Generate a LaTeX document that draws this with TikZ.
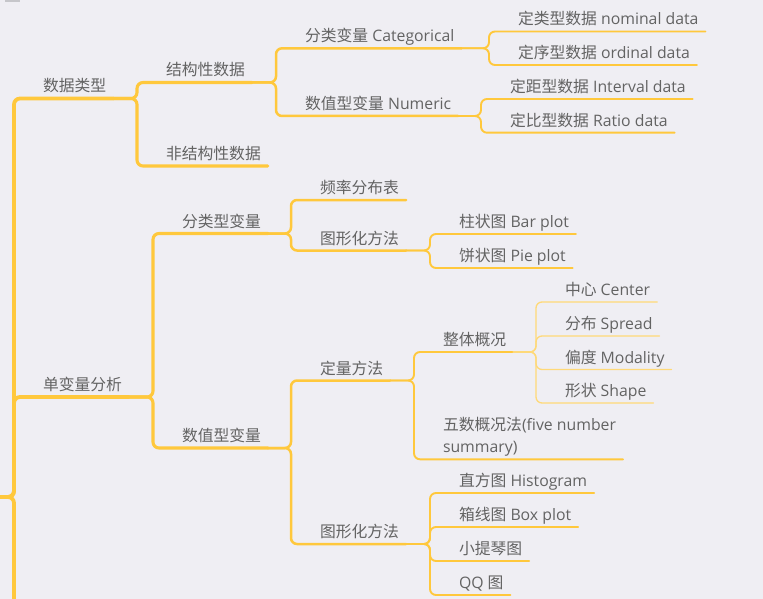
\documentclass[tikz,border=0pt]{standalone}
\usepackage{fontspec}
\setmainfont{Open Sans}
\newfontfamily\zhfont{Noto Sans CJK SC}
\newcommand{\zh}[1]{{\zhfont #1}}
\usepackage{tikz}
\usetikzlibrary{calc}
\definecolor{bgcol}{HTML}{EFEEF3}
\definecolor{mapyellow}{HTML}{FFC83C}
\definecolor{paleyellow}{HTML}{FFD978}
\definecolor{txtgray}{HTML}{636363}
\definecolor{tabgray}{HTML}{C6C6CA}
\tikzset{
  topic/.style={anchor=south west, inner sep=0pt, outer sep=0pt, text depth=6.5pt,
    text=txtgray, font=\fontsize{15.8}{22}\selectfont},
  lvla/.style={draw=mapyellow, line width=3.8pt, rounded corners=6pt, line cap=round},
  lvlb/.style={draw=mapyellow, line width=3.1pt, rounded corners=6pt, line cap=round},
  lvlc/.style={draw=mapyellow, line width=2.5pt, rounded corners=6pt, line cap=round},
  lvld/.style={draw=mapyellow, line width=1.9pt, rounded corners=6pt, line cap=round},
  lvle/.style={draw=paleyellow, line width=1.3pt, rounded corners=6pt, line cap=round}
}
\begin{document}
\begin{tikzpicture}[x=1pt,y=-1pt]
      \useasboundingbox (0,0) rectangle (763,599);
      \fill[bgcol] (0,0) rectangle (763,599);
      \fill[tabgray] (5,-2) rectangle (20,1.8);

      % topics
      \node[topic] (dtype)    at (43, 98.5)  {\zh{数据类型}};
      \node[topic] (uni)      at (43, 397)   {\zh{单变量分析}};

      \node[topic] (struct)   at (166, 82.5) {\zh{结构性数据}};
      \node[topic] (unstruct) at (166, 166)  {\zh{非结构性数据}};
      \node[topic] (catvar)   at (182, 233.5){\zh{分类型变量}};
      \node[topic] (numvar)   at (182, 448)  {\zh{数值型变量}};

      \node[topic] (categ)    at (305, 48.3) {\zh{分类变量} Categorical};
      \node[topic] (numer)    at (305, 116)  {\zh{数值型变量} Numeric};
      \node[topic] (freq)     at (320, 200)  {\zh{频率分布表}};
      \node[topic] (catplot)  at (320, 250.5){\zh{图形化方法}};
      \node[topic] (quant)    at (320, 380.5){\zh{定量方法}};
      \node[topic] (numplot)  at (320, 544)  {\zh{图形化方法}};

      \node[topic] (nominal)  at (518, 31.5) {\zh{定类型数据} nominal data};
      \node[topic] (ordinal)  at (518, 65)   {\zh{定序型数据} ordinal data};
      \node[topic] (interval) at (510, 99)   {\zh{定距型数据} Interval data};
      \node[topic] (ratio)    at (510, 132.7){\zh{定比型数据} Ratio data};
      \node[topic] (bar)      at (459, 234)  {\zh{柱状图} Bar plot};
      \node[topic] (pie)      at (459, 268)  {\zh{饼状图} Pie plot};
      \node[topic] (overview) at (443, 352)  {\zh{整体概况}};
      \node[topic,align=left] (fivenum) at (443, 459.3) {\zh{五数概况法}(five number\\summary)};
      \node[topic] (hist)     at (459, 493)  {\zh{直方图} Histogram};
      \node[topic] (box)      at (459, 527)  {\zh{箱线图} Box plot};
      \node[topic] (violin)   at (459, 561)  {\zh{小提琴图}};
      \node[topic] (qq)       at (459, 595)  {QQ \zh{图}};

      \node[topic] (center)   at (565, 302)  {\zh{中心} Center};
      \node[topic] (spread)   at (565, 336)  {\zh{分布} Spread};
      \node[topic] (modality) at (565, 369.5){\zh{偏度} Modality};
      \node[topic] (shape)    at (565, 403)  {\zh{形状} Shape};

      % root
      \coordinate (root) at (0, 497);
      \coordinate (rootend) at (14, 606);
      \draw[lvla] (root) -| (rootend);
      \draw[lvla] (root) -| ($(dtype.south west)+(-29,0)$) -- ($(dtype.south east)+(7,0)$);
      \draw[lvla] (root) -| ($(uni.south west)+(-29,0)$) -- ($(uni.south east)+(7,0)$);

      % data types
      \draw[lvlb] ($(dtype.south east)+(7,0)$) -| ($(struct.south west)+(-29,0)$) -- ($(struct.south east)+(7,0)$);
      \draw[lvlb] ($(dtype.south east)+(7,0)$) -| ($(unstruct.south west)+(-29,0)$) -- ($(unstruct.south east)+(7,0)$);
      \draw[lvlc] ($(struct.south east)+(7,0)$) -| ($(categ.south west)+(-29,0)$) -- ($(categ.south east)+(7,0)$);
      \draw[lvlc] ($(struct.south east)+(7,0)$) -| ($(numer.south west)+(-29,0)$) -- ($(numer.south east)+(7,0)$);
      \draw[lvld] ($(categ.south east)+(7,0)$) -| ($(nominal.south west)+(-29,0)$) -- ($(nominal.south east)+(7,0)$);
      \draw[lvld] ($(categ.south east)+(7,0)$) -| ($(ordinal.south west)+(-29,0)$) -- ($(ordinal.south east)+(7,0)$);
      \draw[lvld] ($(numer.south east)+(7,0)$) -| ($(interval.south west)+(-29,0)$) -- ($(interval.south east)+(7,0)$);
      \draw[lvld] ($(numer.south east)+(7,0)$) -| ($(ratio.south west)+(-29,0)$) -- ($(ratio.south east)+(7,0)$);

      % univariate
      \draw[lvlb] ($(uni.south east)+(7,0)$) -| ($(catvar.south west)+(-29,0)$) -- ($(catvar.south east)+(7,0)$);
      \draw[lvlb] ($(uni.south east)+(7,0)$) -| ($(numvar.south west)+(-29,0)$) -- ($(numvar.south east)+(7,0)$);
      \draw[lvlc] ($(catvar.south east)+(7,0)$) -| ($(freq.south west)+(-29,0)$) -- ($(freq.south east)+(7,0)$);
      \draw[lvlc] ($(catvar.south east)+(7,0)$) -| ($(catplot.south west)+(-29,0)$) -- ($(catplot.south east)+(7,0)$);
      \draw[lvld] ($(catplot.south east)+(7,0)$) -| ($(bar.south west)+(-29,0)$) -- ($(bar.south east)+(7,0)$);
      \draw[lvld] ($(catplot.south east)+(7,0)$) -| ($(pie.south west)+(-29,0)$) -- ($(pie.south east)+(7,0)$);
      \draw[lvlc] ($(numvar.south east)+(7,0)$) -| ($(quant.south west)+(-29,0)$) -- ($(quant.south east)+(7,0)$);
      \draw[lvlc] ($(numvar.south east)+(7,0)$) -| ($(numplot.south west)+(-29,0)$) -- ($(numplot.south east)+(7,0)$);
      \draw[lvld] ($(quant.south east)+(7,0)$) -| ($(overview.south west)+(-29,0)$) -- ($(overview.south east)+(7,0)$);
      \draw[lvld] ($(quant.south east)+(7,0)$) -| ($(fivenum.south west)+(-29,0)$) -- ($(fivenum.south east)+(7,0)$);
      \draw[lvle] ($(overview.south east)+(7,0)$) -| ($(center.south west)+(-29,0)$) -- ($(center.south east)+(7,0)$);
      \draw[lvle] ($(overview.south east)+(7,0)$) -| ($(spread.south west)+(-29,0)$) -- ($(spread.south east)+(7,0)$);
      \draw[lvle] ($(overview.south east)+(7,0)$) -| ($(modality.south west)+(-29,0)$) -- ($(modality.south east)+(7,0)$);
      \draw[lvle] ($(overview.south east)+(7,0)$) -| ($(shape.south west)+(-29,0)$) -- ($(shape.south east)+(7,0)$);
      \draw[lvld] ($(numplot.south east)+(7,0)$) -| ($(hist.south west)+(-29,0)$) -- ($(hist.south east)+(7,0)$);
      \draw[lvld] ($(numplot.south east)+(7,0)$) -| ($(box.south west)+(-29,0)$) -- ($(box.south east)+(7,0)$);
      \draw[lvld] ($(numplot.south east)+(7,0)$) -| ($(violin.south west)+(-29,0)$) -- ($(violin.south east)+(7,0)$);
      \draw[lvld] ($(numplot.south east)+(7,0)$) -| ($(qq.south west)+(-29,0)$) -- ($(qq.south east)+(7,0)$);
\end{tikzpicture}
\end{document}
